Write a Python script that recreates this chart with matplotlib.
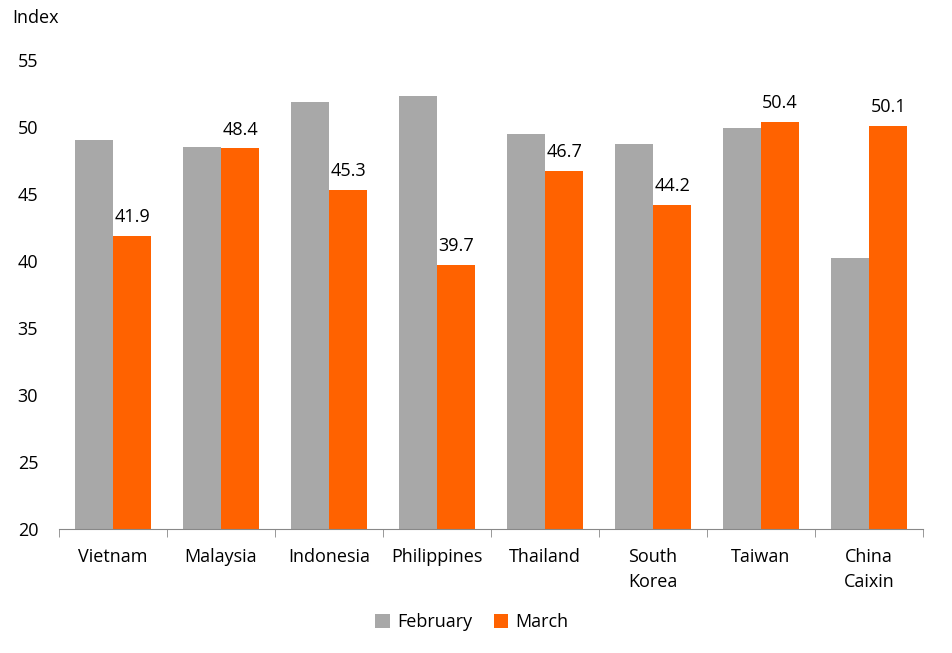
import matplotlib.pyplot as plt
import numpy as np

countries = ['Vietnam', 'Malaysia', 'Indonesia', 'Philippines', 'Thailand',
             'South\nKorea', 'Taiwan', 'China\nCaixin']
february = [49.0, 48.5, 51.9, 52.3, 49.5, 48.7, 49.9, 40.2]
march = [41.9, 48.4, 45.3, 39.7, 46.7, 44.2, 50.4, 50.1]

plt.rcParams['font.family'] = ['Open Sans', 'DejaVu Sans']

fig = plt.figure(figsize=(9.52, 6.53), dpi=100)
ax = fig.add_axes([59 / 952, 1 - 529 / 653, 864 / 952, 469 / 653])

x = np.arange(len(countries))
w = 0.355
ax.bar(x - w / 2, february, width=w, color='#A8A8A8', label='February')
bars = ax.bar(x + w / 2, march, width=w, color='#FF6200', label='March')

for b, v in zip(bars, march):
    ax.annotate(f'{v:.1f}', (b.get_x() + b.get_width() / 2, v), xytext=(0, 7),
                textcoords='offset points', ha='center', va='bottom', fontsize=13)

ax.set_ylim(20, 55)
ax.set_xlim(-0.5, len(countries) - 0.5)
ax.set_yticks(range(20, 56, 5))
ax.set_xticks(x)
ax.set_xticklabels(countries, fontsize=13, linespacing=1.45)
ax.set_xticks(np.arange(-0.5, len(countries), 1), minor=True)
ax.tick_params(axis='x', which='major', length=0, pad=14)
ax.tick_params(axis='x', which='minor', length=6, color='#888888')
ax.tick_params(axis='y', length=0, labelsize=13, pad=15)

for s in ['top', 'right', 'left']:
    ax.spines[s].set_visible(False)
ax.spines['bottom'].set_color('#888888')

fig.text(12 / 952, 1 - 18 / 653, 'Index', fontsize=13, va='center', ha='left')

fig.legend(loc='center', bbox_to_anchor=(472 / 952, 1 - 622 / 653), ncol=2,
           frameon=False, fontsize=13, handlelength=0.8, handleheight=0.8,
           handletextpad=0.4, columnspacing=1.2)

fig.savefig('out.png', dpi=100)
